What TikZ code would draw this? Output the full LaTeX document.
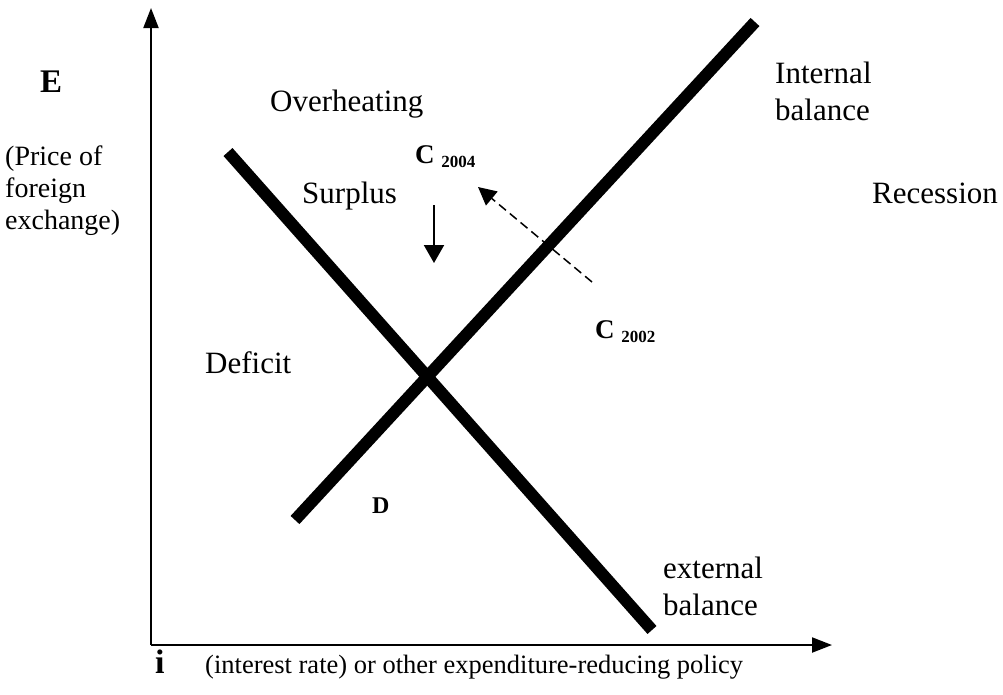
\documentclass[tikz,border=0pt]{standalone}
\usepackage{fontspec}
\setmainfont{Liberation Serif}
\usetikzlibrary{arrows.meta}
\begin{document}
\begin{tikzpicture}[x=1pt,y=-1pt,
  lbl/.style={font=\fontsize{31}{36}\selectfont, inner sep=0pt, anchor=base west},
  side/.style={font=\fontsize{28}{32}\selectfont, inner sep=0pt, anchor=base west},
  small/.style={font=\fontsize{26.5}{32}\selectfont, inner sep=0pt, anchor=base west},
  bold/.style={font=\fontsize{27}{32}\selectfont\bfseries, inner sep=0pt, anchor=base west},
  bal/.style={line width=12pt},
  axis/.style={line width=2pt,-{Triangle[length=20pt,width=15pt]}},
  movearrow/.style={line width=2pt,-{Triangle[length=18pt,width=20pt]}},
  shiftarrow/.style={line width=1.5pt,dash pattern=on 9pt off 5pt,-{Triangle[length=18pt,width=18pt]}}]
\useasboundingbox (0,0) rectangle (1003,694);
% axes
\coordinate (O) at (151,645);
\coordinate (ytop) at (151,8);
\coordinate (xend) at (832,645);
\draw[axis] (O) -- (ytop);
\draw[axis] (O) -- (xend);
% balance lines
\coordinate (ib1) at (295,520);
\coordinate (ib2) at (755,22);
\coordinate (eb1) at (228,152);
\coordinate (eb2) at (652,630);
\draw[bal] (ib1) -- (ib2);
\draw[bal] (eb1) -- (eb2);
% labels
\node[lbl] (over) at (270,111) {Overheating};
\node[lbl] (ib) at (775,83) {Internal};
\node[lbl] (ib2l) at (775,120) {balance};
\node[font=\fontsize{33}{36}\selectfont\bfseries, inner sep=0pt, anchor=base west] (E) at (40,92) {E};
\node[side] (price1) at (5,165) {(Price of};
\node[side] (price2) at (5,197) {foreign};
\node[side] (price3) at (5,229) {exchange)};
\node[lbl] (surplus) at (302,203) {Surplus};
\node[bold] (c04) at (415,163) {C {\fontsize{17}{20}\selectfont\raisebox{-4pt}{2004}}};
\node[lbl] (rec) at (872,203) {Recession};
\node[bold] (c02) at (595,338) {C {\fontsize{17}{20}\selectfont\raisebox{-4pt}{2002}}};
\node[lbl] (def) at (205,373) {Deficit};
\node[bold, font=\fontsize{24}{28}\selectfont\bfseries] (D) at (372,513) {D};
\node[lbl] (eb) at (663,578) {external};
\node[lbl] (eb2l) at (663,615) {balance};
\node[font=\fontsize{34}{38}\selectfont\bfseries, inner sep=0pt, anchor=base west] (i) at (155,673) {i};
\node[small] (ilab) at (205,673) {(interest rate) or other expenditure-reducing policy};
% arrows
\coordinate (a1) at (434,205);
\coordinate (a2) at (434,263);
\draw[movearrow] (a1) -- (a2);
\coordinate (d1) at (592,282);
\coordinate (d2) at (478,187);
\draw[shiftarrow] (d1) -- (d2);
\end{tikzpicture}
\end{document}
